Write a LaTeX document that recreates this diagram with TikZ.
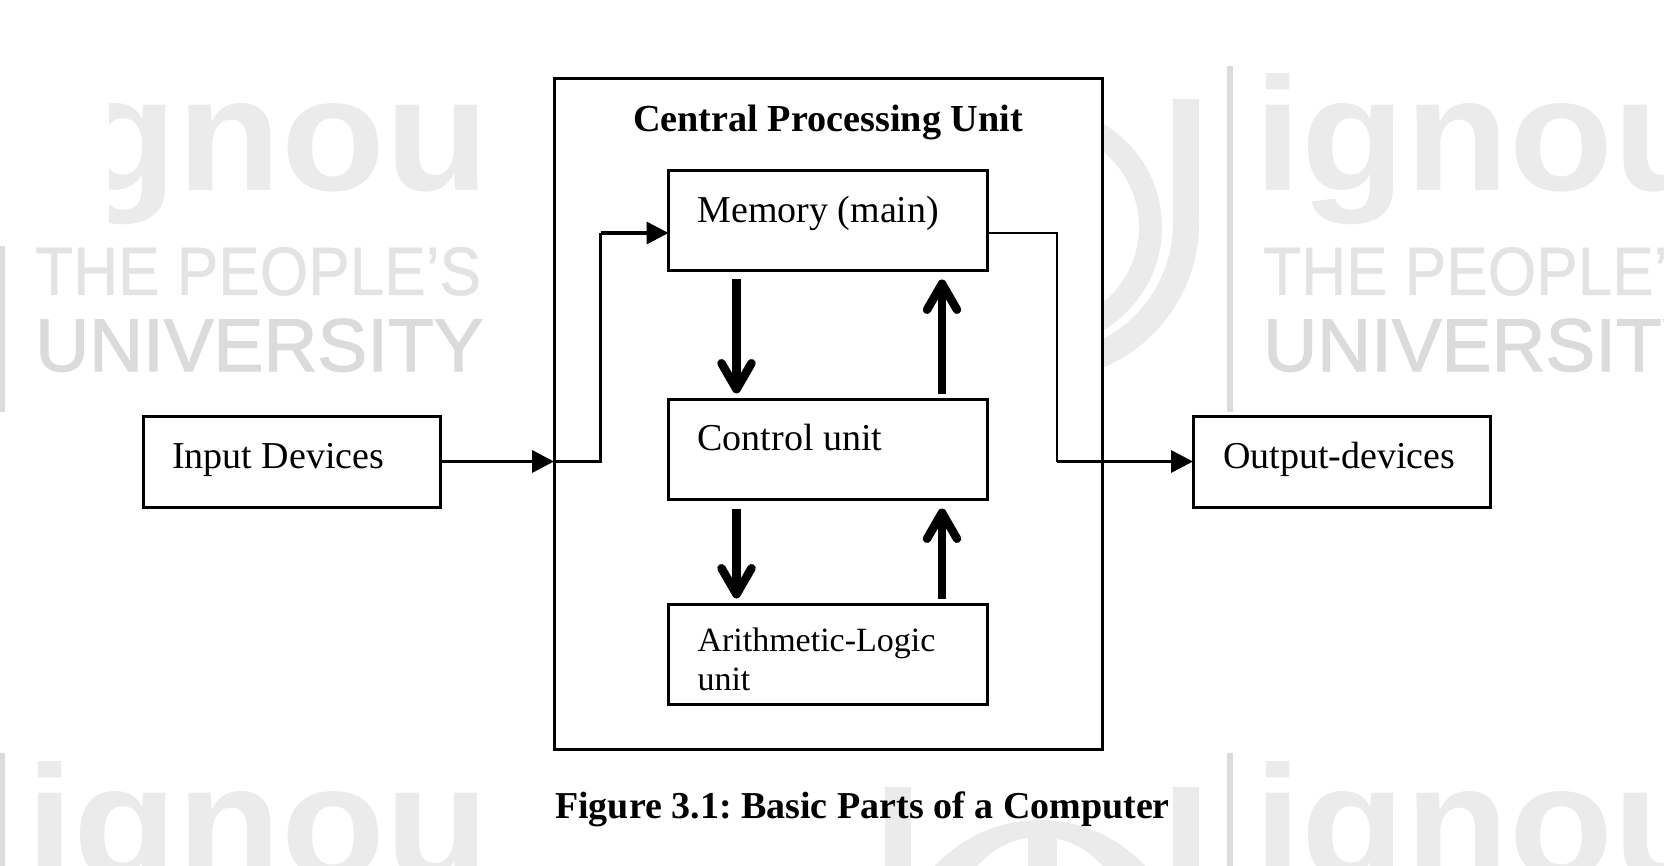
\documentclass[tikz,border=0pt]{standalone}
\usepackage{fontspec}
\setmainfont{Liberation Serif}
\newfontfamily\wmfont{Liberation Sans}
\newfontfamily\wmfontb[FakeBold=1.6]{Liberation Sans}
\newfontfamily\wmfontc[FakeBold=0.7]{Liberation Sans}
\usetikzlibrary{arrows.meta}
\definecolor{wma}{gray}{0.92}
\definecolor{wmb}{gray}{0.89}
\definecolor{wmc}{gray}{0.86}
\tikzset{
  x=1pt,y=-1pt,
  box/.style={draw=black,line width=3pt,outer sep=0pt,inner xsep=29pt,inner ysep=0pt,align=flush left,font=\fontsize{38}{39}\selectfont\frenchspacing,fill=white,anchor=north west},
  cpubox/.style={draw=black,line width=3pt,outer sep=0pt,inner sep=0pt,fill=white,anchor=north west,minimum width=548pt,minimum height=670pt},
  unitbox/.style={box,minimum width=319pt,minimum height=100pt,text width=261pt},
  iobox/.style={box,minimum width=297pt,minimum height=91pt,text width=239pt,text height=52pt,text depth=39pt},
  title/.style={font=\fontsize{38.2}{39}\selectfont\bfseries\frenchspacing,inner sep=0pt,anchor=base},
  thin arrow/.style={line width=3.5pt,-{Triangle[length=22pt,width=22pt]}},
  plain line/.style={line width=2.7pt},
  big arrow/.style={line width=8.5pt,-{Straight Barb[length=26pt,width=30pt,line width=8.5pt,round,sep=-20pt] Triangle[length=20pt,width=22pt]}},
  wm/.style={inner sep=0pt,anchor=base west},
}
\newcommand{\wmblock}[3]{%
  \node[wm,text=wma,font=\wmfont\bfseries\fontsize{170}{170}\selectfont,yscale=0.95] (#3i) at (#1+26,#2+191) {ignou};
  \node[wm,text=wmb,font=\wmfontc\fontsize{62.2}{64}\selectfont,yscale=1.1] (#3p) at (#1+35,#2+295) {THE PEOPLE’S};
  \node[wm,text=wmc,font=\wmfontb\fontsize{74.7}{76}\selectfont] (#3u) at (#1+35,#2+371) {UNIVERSITY};
  \fill[wmc] (#1-1,#2+66) rectangle (#1+5,#2+412);
}
\begin{document}
\begin{tikzpicture}
\useasboundingbox (0,0) rectangle (1664,866);
\clip (0,0) rectangle (1664,866);
\fill[white] (0,0) rectangle (1664,866);
% watermark
\wmblock{1228}{0}{ra}
\wmblock{0}{0}{la}
\fill[white] (-1,-1) rectangle (109,246);
\wmblock{0}{687}{lb}
\wmblock{1228}{687}{rb}
% logo, upper
\fill[wma,even odd rule] (1042,223) circle[radius=157] (1042,223) circle[radius=131];
\fill[white] (885,60) rectangle (1200,223);
\fill[wma] (1173,99) rectangle (1199,223);
\fill[wma,even odd rule] (1042,227) circle[radius=120] (1042,227) circle[radius=97];
% logo, lower
\fill[wma] (885,787) rectangle (911,870);
\fill[wma] (1173,787) rectangle (1199,870);
\fill[wma,even odd rule] (1040,963) circle[radius=143] (1040,919) circle[radius=82];
\fill[wma] (1028,830) rectangle (1057,870);
% boxes
\node[cpubox] (cpu) at (554,79) {};
\node[unitbox,text height=52pt,text depth=48pt] (mem) at (668.5,170.5) {Memory (main)};
\node[unitbox,text height=51pt,text depth=49pt] (ctl) at (668.5,399.5) {Control unit};
\node[unitbox,font=\fontsize{34}{39}\selectfont\frenchspacing,text height=47pt,text depth=53pt] (alu) at (668.5,604.5) {Arithmetic-Logic\\unit};
\node[iobox] (inp) at (143,416) {Input Devices};
\node[iobox,inner xsep=30pt,text width=237pt] (out) at (1193,416) {Output-devices};
\node[title] (cput) at (828,132) {Central Processing Unit};
\node[title,font=\fontsize{38}{39}\selectfont\bfseries\frenchspacing] (cap) at (862.5,818) {Figure 3.1: Basic Parts of a Computer};
% connectors
\coordinate (a) at (600.5,0);
\coordinate (b) at (1057,0);
\coordinate (c) at (736.5,0);
\coordinate (d) at (942,0);
\coordinate (e) at (0,233);
\draw[thin arrow] (inp.east) -- (cpu.west |- inp.east);
\draw[plain line] (cpu.west |- inp.east) -- (a |- inp.east) -- (a |- e);
\draw[thin arrow] (a |- e) -- (mem.west |- e);
\draw[plain line] (mem.east |- e) -- (b |- e) -- (b |- out.west);
\draw[thin arrow] (b |- out.west) -- (out.west);
\draw[big arrow,shorten <=9pt,shorten >=6pt] (c |- mem.south) -- (c |- ctl.north);
\draw[big arrow,shorten <=6pt,shorten >=9pt] (d |- ctl.north) -- (d |- mem.south);
\draw[big arrow,shorten <=9pt,shorten >=6pt] (c |- ctl.south) -- (c |- alu.north);
\draw[big arrow,shorten <=6pt,shorten >=9pt] (d |- alu.north) -- (d |- ctl.south);
\end{tikzpicture}
\end{document}
